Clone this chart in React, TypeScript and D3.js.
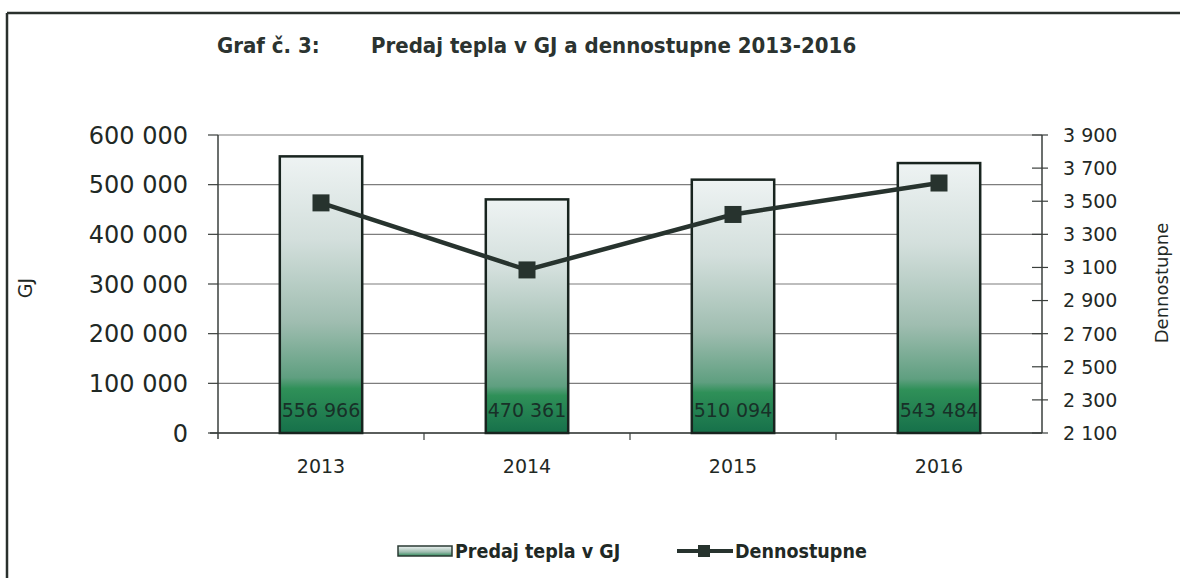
import React from "react";
import * as d3 from "d3";

const categories = ["2013", "2014", "2015", "2016"];
const heatSales = [556966, 470361, 510094, 543484];
const degreeDays = [3490, 3085, 3420, 3610];
const leftTicks = [0, 100000, 200000, 300000, 400000, 500000, 600000];
const rightTicks = [2100, 2300, 2500, 2700, 2900, 3100, 3300, 3500, 3700, 3900];
const titleLeft = "Graf č. 3:";
const titleRight = "Predaj tepla v GJ a dennostupne 2013-2016";
const seriesNames = ["Predaj tepla v GJ", "Dennostupne"];

const W = 1180;
const H = 578;
const plot = { left: 218, right: 1042, top: 135, bottom: 433 };
const font = "'DejaVu Sans', sans-serif";
const condFont = "'DejaVu Sans Condensed', 'DejaVu Sans', sans-serif";
const textColor = "#1f2925";

const fmt = d3.formatLocale({ decimal: ",", thousands: " ", grouping: [3], currency: ["", ""] }).format(",d");

export default function App() {
  const x = d3.scaleBand<string>().domain(categories).range([plot.left, plot.right]).padding(0);
  const yL = d3.scaleLinear().domain([0, 600000]).range([plot.bottom, plot.top]);
  const yR = d3.scaleLinear().domain([2100, 3900]).range([plot.bottom, plot.top]);
  const barW = x.bandwidth() * 0.4;
  const cx = (c: string) => (x(c) as number) + x.bandwidth() / 2;
  const line = d3
    .line<number>()
    .x((_, i) => cx(categories[i]))
    .y((d) => yR(d));
  const boundaries = categories.slice(1).map((c) => x(c) as number);

  return (
    <svg width={W} height={H} style={{ position: "absolute", left: 0, top: 0, background: "#fff" }}>
      <defs>
        <linearGradient id="barGrad" x1="0" y1="0" x2="0" y2="1">
          <stop offset="0" stopColor="#eef3f3" />
          <stop offset="0.3" stopColor="#d3dfdc" />
          <stop offset="0.6" stopColor="#9fbdb0" />
          <stop offset="0.8" stopColor="#5f9f80" />
          <stop offset="0.84" stopColor="#2f9058" />
          <stop offset="1" stopColor="#16704a" />
        </linearGradient>
        <linearGradient id="legGrad" x1="0" y1="0" x2="0" y2="1">
          <stop offset="0" stopColor="#eef3f3" />
          <stop offset="0.6" stopColor="#9fbdb0" />
          <stop offset="1" stopColor="#2f8a5a" />
        </linearGradient>
      </defs>
      <rect x={0} y={0} width={W} height={H} fill="#fff" />
      {/* frame */}
      <line x1={7} y1={13} x2={W} y2={13} stroke="#2a302d" strokeWidth={2.5} />
      <line x1={7} y1={13} x2={7} y2={H} stroke="#2a302d" strokeWidth={2.5} />

      {/* title */}
      <text x={217} y={45} dy="0.36em" fontFamily={condFont} fontWeight="bold" fontSize={22} fill="#2b3330">
        {titleLeft}
      </text>
      <text x={371} y={45} dy="0.36em" fontFamily={condFont} fontWeight="bold" fontSize={22} fill="#2b3330">
        {titleRight}
      </text>

      {/* gridlines */}
      {leftTicks.map((t) => (
        <line key={"g" + t} x1={plot.left} x2={plot.right} y1={yL(t)} y2={yL(t)} stroke="#7d7d7d" strokeWidth={1.2} />
      ))}

      {/* left axis */}
      <line x1={plot.left} x2={plot.left} y1={plot.top} y2={plot.bottom + 6} stroke="#3a3f3c" strokeWidth={1.5} />
      {leftTicks.map((t) => (
        <g key={"l" + t}>
          <line x1={plot.left - 10} x2={plot.left} y1={yL(t)} y2={yL(t)} stroke="#3a3f3c" strokeWidth={1.2} />
          <text x={188} y={yL(t)} dy="0.36em" textAnchor="end" fontFamily={font} fontSize={24} fill={textColor}>
            {fmt(t)}
          </text>
        </g>
      ))}
      <text
        transform={`translate(25,288) rotate(-90)`}
        textAnchor="middle"
        dy="0.36em"
        fontFamily={font}
        fontSize={19}
        fill={textColor}
      >
        GJ
      </text>

      {/* right axis */}
      <line x1={plot.right} x2={plot.right} y1={plot.top} y2={plot.bottom} stroke="#3a3f3c" strokeWidth={1.5} />
      {rightTicks.map((t) => (
        <g key={"r" + t}>
          <line x1={plot.right - 10} x2={plot.right + 6} y1={yR(t)} y2={yR(t)} stroke="#3a3f3c" strokeWidth={1.2} />
          <text x={1063} y={yR(t)} dy="0.36em" fontFamily={font} fontSize={19} fill={textColor}>
            {fmt(t)}
          </text>
        </g>
      ))}
      <text
        transform={`translate(1162,283) rotate(-90)`}
        textAnchor="middle"
        dy="0.36em"
        fontFamily={font}
        fontSize={18}
        fill={textColor}
      >
        {seriesNames[1]}
      </text>

      {/* x axis */}
      <line x1={plot.left - 8} x2={plot.right} y1={plot.bottom} y2={plot.bottom} stroke="#3a3f3c" strokeWidth={1.5} />
      {boundaries.map((b, i) => (
        <line key={"xb" + i} x1={b} x2={b} y1={plot.bottom} y2={plot.bottom + 7} stroke="#3a3f3c" strokeWidth={1.2} />
      ))}
      {categories.map((c) => (
        <text key={"xl" + c} x={cx(c)} y={466} dy="0.36em" textAnchor="middle" fontFamily={font} fontSize={19} fill={textColor}>
          {c}
        </text>
      ))}

      {/* bars */}
      {categories.map((c, i) => (
        <rect
          key={"b" + c}
          x={cx(c) - barW / 2}
          y={yL(heatSales[i])}
          width={barW}
          height={plot.bottom - yL(heatSales[i])}
          fill="url(#barGrad)"
          stroke="#18241f"
          strokeWidth={2.5}
        />
      ))}
      {categories.map((c, i) => (
        <text key={"v" + c} x={cx(c)} y={410} dy="0.36em" textAnchor="middle" fontFamily={font} fontSize={19} fill="#183028">
          {fmt(heatSales[i])}
        </text>
      ))}

      {/* line series */}
      <path d={line(degreeDays) as string} fill="none" stroke="#27332e" strokeWidth={4.5} />
      {degreeDays.map((d, i) => (
        <rect key={"m" + i} x={cx(categories[i]) - 8.5} y={yR(d) - 8.5} width={17} height={17} fill="#27332e" />
      ))}

      {/* legend */}
      <rect x={398} y={546} width={54} height={10} fill="url(#legGrad)" stroke="#2a3a33" strokeWidth={1.5} />
      <text x={455} y={551} dy="0.36em" fontFamily={condFont} fontWeight="bold" fontSize={19.5} fill={textColor}>
        {seriesNames[0]}
      </text>
      <line x1={677} x2={733} y1={551} y2={551} stroke="#27332e" strokeWidth={4} />
      <rect x={698} y={545} width={12} height={12} fill="#27332e" />
      <text x={735} y={551} dy="0.36em" fontFamily={condFont} fontWeight="bold" fontSize={19.5} fill={textColor}>
        {seriesNames[1]}
      </text>
    </svg>
  );
}
